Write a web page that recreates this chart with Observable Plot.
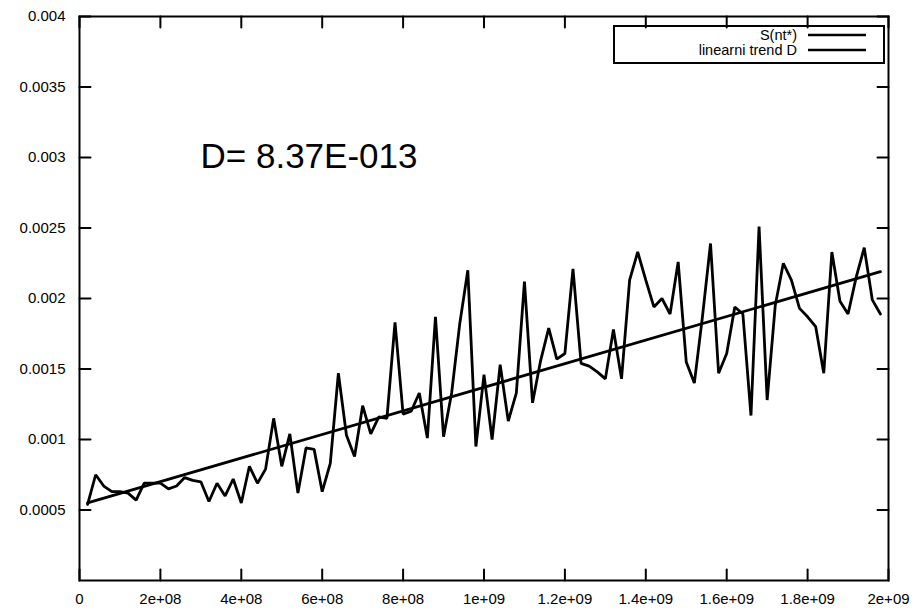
<!DOCTYPE html>
<html><head><meta charset="utf-8">
<script src="https://cdn.jsdelivr.net/npm/d3@7"></script>
<script src="https://cdn.jsdelivr.net/npm/@observablehq/plot@0.6"></script>
<style>body{margin:0;background:#fff} #chart{width:920px;height:610px}</style>
</head><body><div id="chart"></div>
<script>
// sample spacing along x (time)
const xStep = 2e7;
// S(nt*) values, one per step starting at 2e7
const sValues = [
  0.00054, 0.00075, 0.00067, 0.00063, 0.00063, 0.00062, 0.00057, 0.00069, 0.00069, 0.00069,
  0.00065, 0.00067, 0.00073, 0.00071, 0.00070, 0.00056, 0.00069, 0.00060, 0.00072, 0.00055,
  0.00081, 0.00069, 0.00079, 0.00115, 0.00081, 0.00104, 0.00062, 0.00094, 0.00093, 0.00063,
  0.00083, 0.00147, 0.00103, 0.00088, 0.00124, 0.00104, 0.00116, 0.00115, 0.00183, 0.00118,
  0.00120, 0.00133, 0.00101, 0.00187, 0.00102, 0.00133, 0.00182, 0.00220, 0.00095, 0.00146,
  0.00100, 0.00153, 0.00113, 0.00133, 0.00212, 0.00126, 0.00156, 0.00179, 0.00157, 0.00161,
  0.00221, 0.00154, 0.00152, 0.00148, 0.00143, 0.00178, 0.00143, 0.00213, 0.00233, 0.00213,
  0.00194, 0.00200, 0.00189, 0.00226, 0.00155, 0.00140, 0.00187, 0.00239, 0.00147, 0.00161,
  0.00194, 0.00189, 0.00117, 0.00251, 0.00128, 0.00195, 0.00225, 0.00213, 0.00193, 0.00187,
  0.00180, 0.00147, 0.00233, 0.00198, 0.00189, 0.00215, 0.00236, 0.00199, 0.00189
];
// linear trend end points
const trendX = [2e7, 1.98e9];
const trendY = [0.00055, 0.00219];
// axes
const xTicks = [0, 2e8, 4e8, 6e8, 8e8, 1e9, 1.2e9, 1.4e9, 1.6e9, 1.8e9, 2e9];
const xTickLabels = ["0", "2e+08", "4e+08", "6e+08", "8e+08", "1e+09", "1.2e+09", "1.4e+09", "1.6e+09", "1.8e+09", "2e+09"];
const yTicks = [0.0005, 0.001, 0.0015, 0.002, 0.0025, 0.003, 0.0035, 0.004];
const yTickLabels = ["0.0005", "0.001", "0.0015", "0.002", "0.0025", "0.003", "0.0035", "0.004"];
const seriesNames = ["S(nt*)", "linearni trend D"];
const annotation = "D= 8.37E-013";

const sData = sValues.map((v, i) => ({x: (i + 1) * xStep, y: v}));
const trendData = trendX.map((x, i) => ({x, y: trendY[i]}));

const FONT = "'Liberation Sans', Arial, Helvetica, sans-serif";
const tickShape = {draw(context, l) { context.moveTo(0, 0); context.lineTo(0, -l); }};
const TL = 11;

const plot = Plot.plot({
  width: 920,
  height: 610,
  marginLeft: 79,
  marginRight: 32,
  marginTop: 16,
  marginBottom: 30,
  style: {fontFamily: FONT, fontSize: "15px", background: "white", color: "black"},
  x: {domain: [0, 2e9]},
  y: {domain: [0, 0.004]},
  marks: [
    Plot.axisX(xTicks, {label: null, tickSize: 0, tickPadding: 13, fontSize: 15, tickFormat: d => xTickLabels[xTicks.indexOf(d)]}),
    Plot.axisY(yTicks, {label: null, tickSize: 0, tickPadding: 14, fontSize: 15, tickFormat: d => yTickLabels[yTicks.indexOf(d)]}),
    Plot.vector(xTicks, {x: d => d, y: () => 0, length: TL, rotate: 0, anchor: "start", shape: tickShape, stroke: "black", strokeWidth: 2}),
    Plot.vector(xTicks, {x: d => d, y: () => 0.004, length: TL, rotate: 180, anchor: "start", shape: tickShape, stroke: "black", strokeWidth: 2}),
    Plot.vector(yTicks, {x: () => 0, y: d => d, length: TL, rotate: 90, anchor: "start", shape: tickShape, stroke: "black", strokeWidth: 2}),
    Plot.vector(yTicks, {x: () => 2e9, y: d => d, length: TL, rotate: -90, anchor: "start", shape: tickShape, stroke: "black", strokeWidth: 2}),
    Plot.line(sData, {x: "x", y: "y", stroke: "black", strokeWidth: 2.8, strokeLinejoin: "miter"}),
    Plot.line(trendData, {x: "x", y: "y", stroke: "black", strokeWidth: 2.8}),
    Plot.text([annotation], {frameAnchor: "top-left", dx: 121, dy: 127, textAnchor: "start", lineAnchor: "top", fontSize: 35, fill: "black"}),
    Plot.frame({stroke: "black", strokeWidth: 2})
  ]
});

// in-plot legend (gnuplot style)
const svg = d3.select(plot);
const lg = svg.append("g").attr("font-family", FONT).attr("font-size", 14.5);
lg.append("rect").attr("x", 614).attr("y", 26).attr("width", 270).attr("height", 37)
  .attr("fill", "none").attr("stroke", "black").attr("stroke-width", 2);
seriesNames.forEach((name, i) => {
  const cy = 35 + i * 15;
  lg.append("text").attr("x", 797).attr("y", cy).attr("dy", "0.35em")
    .attr("text-anchor", "end").attr("fill", "black").text(name);
  lg.append("line").attr("x1", 808).attr("x2", 866).attr("y1", cy).attr("y2", cy)
    .attr("stroke", "black").attr("stroke-width", 2.5);
});

document.getElementById("chart").appendChild(plot);
</script>
</body></html>
